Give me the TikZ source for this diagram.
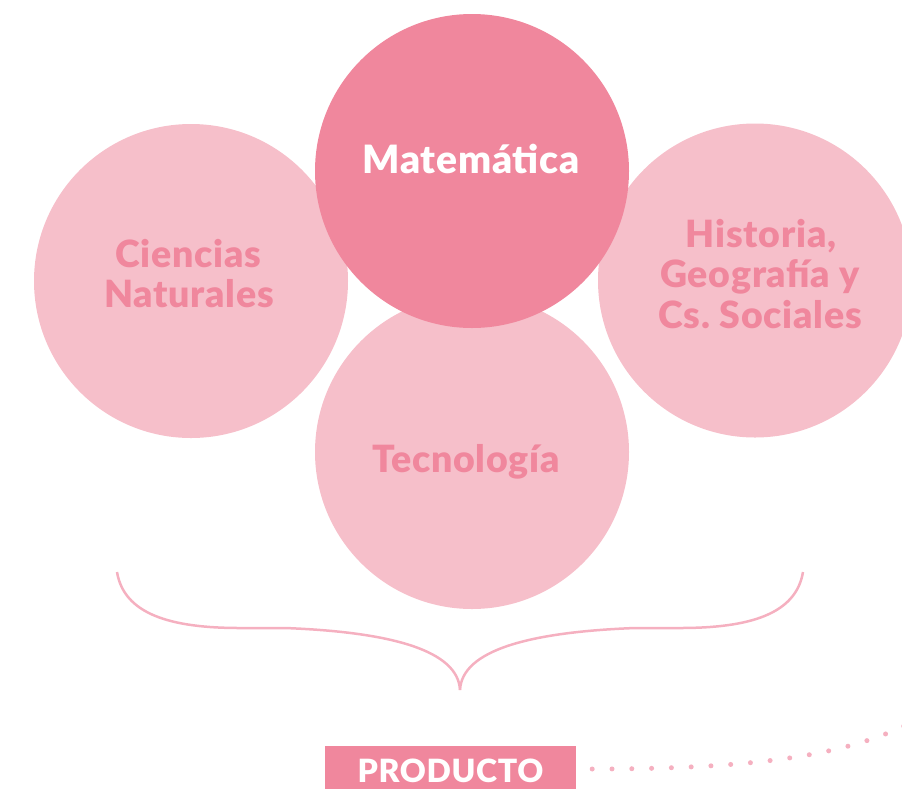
\documentclass[tikz,border=0pt]{standalone}
\usepackage{fontspec}
\setmainfont{Lato}[BoldFont={Lato Black}, LetterSpace=2]
\frenchspacing
\definecolor{darkpink}{HTML}{F0879D}
\definecolor{lightpink}{HTML}{F6BFCA}
\definecolor{bracepink}{HTML}{F5B0C0}
\begin{document}
\begin{tikzpicture}[x=1pt,y=-1pt,
  bubble/.style={circle, minimum size=314pt, inner sep=0pt, fill=lightpink},
  lbl/.style={anchor=base, inner sep=0pt, text=darkpink, font=\fontsize{37.5}{45}\selectfont\bfseries},
  bracestroke/.style={draw=bracepink, line width=2.5pt},
  dotline/.style={draw=bracepink, line width=5pt, line cap=round, dash pattern=on 0pt off 19.8pt}]
\useasboundingbox (0,0) rectangle (902,788);
% circles
\node[bubble] (cn) at (191,281) {};
\node[bubble] (hi) at (755,280.5) {};
\node[bubble] (te) at (472,452) {};
\node[bubble, fill=darkpink] (ma) at (472,171) {};
% labels
\node[lbl] (cn1) at (188,267) {Ciencias};
\node[lbl] (cn2) at (189,307) {Naturales};
\node[lbl] (hi1) at (761,247) {Historia,};
\node[lbl] (hi2) at (760,287) {Geografía y};
\node[lbl] (hi3) at (760,328) {Cs.\ Sociales};
\node[lbl] (te1) at (466,472) {Tecnología};
\node[lbl, text=white, font=\fontsize{39}{45}\selectfont\bfseries] (ma1) at (471,173) {Matemática};
% brace
\coordinate (bl) at (117,572);
\coordinate (br) at (803,572);
\coordinate (tip) at (460,690);
\draw[bracestroke] (bl) .. controls (124,614) and (170,628) .. (240,628) -- (285,628)
   .. controls (390,632) and (458,650) .. (tip);
\draw[bracestroke] (br) .. controls (796,614) and (750,628) .. (680,628) -- (635,628)
   .. controls (530,632) and (462,650) .. (tip);
% product box
\node[fill=darkpink, minimum width=251pt, minimum height=50pt, inner sep=0pt,
      text=white, font=\fontsize{32}{38}\selectfont\bfseries] (pr) at (450.5,771) {PRODUCTO};
\coordinate (dotend) at (912,722);
\draw[dotline] ([xshift=16pt,yshift=2pt]pr.east) .. controls +(170,0) and (850,754) .. (dotend);
\end{tikzpicture}
\end{document}
